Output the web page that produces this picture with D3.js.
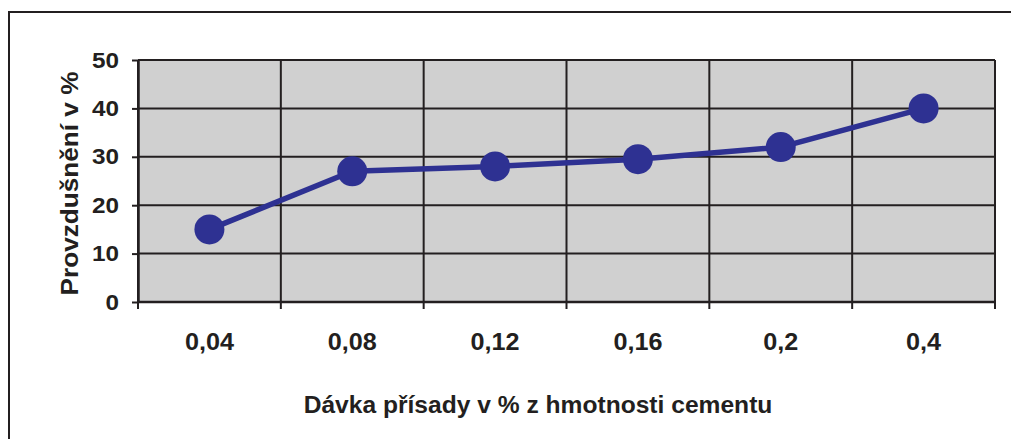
<!DOCTYPE html>
<html>
<head>
<meta charset="utf-8">
<script src="https://cdn.jsdelivr.net/npm/d3@7"></script>
<style>
  html, body { margin: 0; padding: 0; background: #fff; }
  svg { display: block; }
  text { font-family: "Liberation Sans", Arial, sans-serif; font-weight: bold; fill: #231f20; }
</style>
</head>
<body>
<script>
const categories = ["0,04", "0,08", "0,12", "0,16", "0,2", "0,4"];
const values = [15, 27, 28, 29.5, 32, 40];
const yTicks = [0, 10, 20, 30, 40, 50];
const xTitle = "Dávka přísady v % z hmotnosti cementu";
const yTitle = "Provzdušnění v %";

const W = 1011, H = 439;
const m = { left: 138, right: 1011 - 995, top: 60, bottom: 439 - 302 };
const svg = d3.select("body").append("svg").attr("width", W).attr("height", H);

// outer frame (top and left edges visible)
svg.append("path")
  .attr("d", `M9,${H} L9,12 L${W},12`)
  .attr("fill", "none").attr("stroke", "#231f20").attr("stroke-width", 2);

const x = d3.scaleBand().domain(categories).range([m.left, W - m.right]).padding(0);
const y = d3.scaleLinear().domain([0, 50]).range([H - m.bottom, m.top]);

// plot area background
svg.append("rect")
  .attr("x", m.left).attr("y", m.top)
  .attr("width", W - m.right - m.left).attr("height", H - m.bottom - m.top)
  .attr("fill", "#d0d0d0");

// horizontal gridlines
svg.append("g").selectAll("line").data(yTicks).join("line")
  .attr("x1", m.left).attr("x2", W - m.right)
  .attr("y1", d => y(d)).attr("y2", d => y(d))
  .attr("stroke", "#231f20").attr("stroke-width", 2);

// vertical gridlines at band boundaries
const bounds = categories.map(c => x(c)).concat([x(categories[categories.length - 1]) + x.bandwidth()]);
svg.append("g").selectAll("line").data(bounds).join("line")
  .attr("x1", d => d).attr("x2", d => d)
  .attr("y1", m.top).attr("y2", H - m.bottom)
  .attr("stroke", "#231f20").attr("stroke-width", 2);

// y axis
const yAxis = svg.append("g").attr("transform", `translate(${m.left},0)`)
  .call(d3.axisLeft(y).tickValues(yTicks).tickSize(6).tickSizeOuter(0).tickFormat(""));
yAxis.select(".domain").attr("stroke", "#231f20").attr("stroke-width", 2.5);
yAxis.selectAll(".tick line").attr("stroke", "#231f20").attr("stroke-width", 2);
svg.append("g").selectAll("text").data(yTicks).join("text")
  .attr("transform", d => `translate(119,${y(d)}) scale(1.13,1)`)
  .attr("dy", "0.35em")
  .attr("text-anchor", "end")
  .style("font-size", "21.5px")
  .text(d => d);

// x axis (ticks at band boundaries)
const xAxisG = svg.append("g");
xAxisG.selectAll("line.tick").data(bounds).join("line")
  .attr("class", "tick")
  .attr("x1", d => d).attr("x2", d => d)
  .attr("y1", H - m.bottom).attr("y2", H - m.bottom + 7)
  .attr("stroke", "#231f20").attr("stroke-width", 2);
xAxisG.append("line")
  .attr("x1", m.left).attr("x2", W - m.right)
  .attr("y1", H - m.bottom).attr("y2", H - m.bottom)
  .attr("stroke", "#231f20").attr("stroke-width", 2.5);
xAxisG.selectAll("text").data(categories).join("text")
  .attr("transform", d => `translate(${x(d) + x.bandwidth() / 2},350) scale(1.05,1)`)
  .attr("text-anchor", "middle")
  .style("font-size", "24px")
  .text(d => d);

// line
const line = d3.line()
  .x((d, i) => x(categories[i]) + x.bandwidth() / 2)
  .y(d => y(d));
svg.append("path").datum(values)
  .attr("d", line)
  .attr("fill", "none").attr("stroke", "#2e3192").attr("stroke-width", 5.5)
  .attr("stroke-linejoin", "round");

// markers
svg.append("g").selectAll("circle").data(values).join("circle")
  .attr("cx", (d, i) => x(categories[i]) + x.bandwidth() / 2)
  .attr("cy", d => y(d))
  .attr("r", 15)
  .attr("fill", "#2e3192");

// titles
svg.append("text")
  .attr("transform", "translate(538,413) scale(1.07,1)")
  .attr("text-anchor", "middle")
  .style("font-size", "23px")
  .text(xTitle);

svg.append("text")
  .attr("transform", `translate(78,${(72 + 295) / 2}) rotate(-90) scale(1.09,1)`)
  .attr("text-anchor", "middle")
  .style("font-size", "24px")
  .text(yTitle);
</script>
</body>
</html>
